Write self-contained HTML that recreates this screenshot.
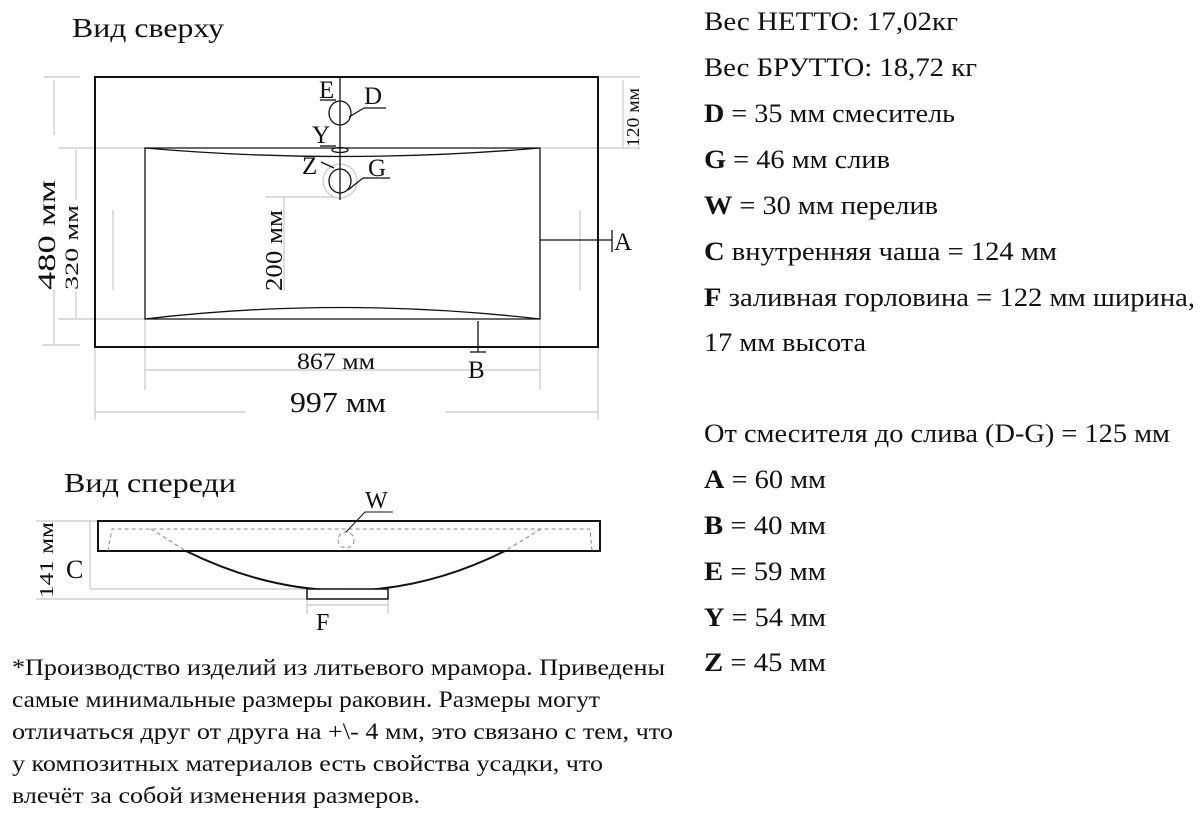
<!DOCTYPE html>
<html><head><meta charset="utf-8"><style>
html,body{margin:0;padding:0;background:#fff;width:1200px;height:815px;overflow:hidden}
svg text{font-family:"Liberation Serif",serif;fill:#111}
</style></head><body>
<svg width="1200" height="815" viewBox="0 0 1200 815" xmlns="http://www.w3.org/2000/svg">
<text x="72" y="37" font-size="27" textLength="152" lengthAdjust="spacingAndGlyphs">Вид сверху</text>
<g stroke="#c8c8c8" stroke-width="1.2" fill="none">
<line x1="44" y1="77" x2="80" y2="77"/><line x1="54" y1="80" x2="54" y2="135"/>
<line x1="54" y1="290" x2="54" y2="345"/><line x1="42" y1="345" x2="80" y2="345"/>
<line x1="58" y1="148" x2="145" y2="148"/><line x1="76" y1="150" x2="76" y2="200"/>
<line x1="76" y1="292" x2="76" y2="318"/>
<line x1="58" y1="319" x2="145" y2="319"/>
<line x1="95" y1="348" x2="95" y2="420"/><line x1="598" y1="348" x2="598" y2="420"/>
<line x1="95" y1="412" x2="245" y2="412"/><line x1="445" y1="412" x2="598" y2="412"/>
<line x1="145" y1="320" x2="145" y2="390"/><line x1="540" y1="320" x2="540" y2="390"/>
<line x1="145" y1="370" x2="540" y2="370"/>
<line x1="598" y1="77" x2="640" y2="77"/><line x1="623" y1="80" x2="623" y2="148"/>
<line x1="540" y1="148" x2="640" y2="148"/>
<line x1="265" y1="197" x2="335" y2="197"/><line x1="284" y1="197" x2="284" y2="291"/>
<circle cx="340" cy="181" r="17"/>
<line x1="113" y1="210" x2="113" y2="290"/><line x1="580" y1="210" x2="580" y2="290"/>
</g>
<rect x="95" y="77" width="503" height="270" fill="none" stroke="#111" stroke-width="2"/>
<g stroke="#111" stroke-width="1.3" fill="none">
<path d="M145 148 L540 148 L540 319 L145 319 Z"/>
<path d="M145 148 Q340 165 540 148"/>
<path d="M145 319 Q340 296 540 319"/>
<line x1="340" y1="77" x2="340" y2="200"/>
<ellipse cx="340" cy="113" rx="11" ry="12"/>
<ellipse cx="340" cy="150" rx="8" ry="2.5"/>
<ellipse cx="340" cy="181" rx="11" ry="12"/>
<line x1="320" y1="100" x2="336" y2="100"/>
<line x1="349" y1="117" x2="364" y2="108"/><line x1="364" y1="108" x2="386" y2="108"/>
<line x1="320" y1="146" x2="336" y2="146"/>
<line x1="321" y1="162" x2="334" y2="168"/>
<line x1="348" y1="190" x2="363" y2="178"/><line x1="363" y1="178" x2="390" y2="178"/>
<line x1="540" y1="240" x2="612" y2="240"/><line x1="612" y1="230" x2="612" y2="252"/>
<line x1="478" y1="321" x2="478" y2="352"/><line x1="470" y1="352" x2="486" y2="352"/>
</g>
<g font-size="25">
<text x="319" y="98">E</text><text x="364" y="104">D</text>
<text x="312" y="143">Y</text><text x="302" y="174">Z</text><text x="368" y="176">G</text>
<text x="614" y="250">A</text><text x="468" y="378">B</text>
<text x="297" y="369" font-size="23" textLength="78" lengthAdjust="spacingAndGlyphs">867 мм</text>
<text x="290" y="412" font-size="28" textLength="96" lengthAdjust="spacingAndGlyphs">997 мм</text>
</g>
<text transform="translate(55,290) rotate(-90)" font-size="25" textLength="110" lengthAdjust="spacingAndGlyphs">480 мм</text>
<text transform="translate(78,290) rotate(-90)" font-size="19" textLength="85" lengthAdjust="spacingAndGlyphs">320 мм</text>
<text transform="translate(282,291) rotate(-90)" font-size="24" textLength="81" lengthAdjust="spacingAndGlyphs">200 мм</text>
<text transform="translate(639,147) rotate(-90)" font-size="18" textLength="59" lengthAdjust="spacingAndGlyphs">120 мм</text>

<text x="64" y="492" font-size="27" textLength="172" lengthAdjust="spacingAndGlyphs">Вид спереди</text>
<g stroke="#c8c8c8" stroke-width="1.2" fill="none">
<line x1="36" y1="521" x2="97" y2="521"/><line x1="90" y1="521" x2="90" y2="589"/>
<line x1="90" y1="589" x2="340" y2="589"/><line x1="36" y1="599" x2="307" y2="599"/>
<line x1="307" y1="600" x2="307" y2="614"/><line x1="388" y1="600" x2="388" y2="614"/>
<line x1="307" y1="605" x2="388" y2="605"/>
</g>
<rect x="98" y="521" width="502" height="30" fill="none" stroke="#111" stroke-width="2"/>
<g stroke="#888" stroke-width="1" fill="none" stroke-dasharray="4,3">
<path d="M108 551 L112 529 L590 529 L592 551"/>
<line x1="151" y1="529" x2="186" y2="551"/><line x1="541" y1="529" x2="505" y2="551"/>
<circle cx="346" cy="540" r="8"/>
</g>
<path d="M186 551 Q346 630 505 551" fill="none" stroke="#111" stroke-width="2"/>
<rect x="307" y="589" width="81" height="10" fill="#fff" stroke="#111" stroke-width="1.5"/>
<path d="M346 532 L365 512 L393 512" fill="none" stroke="#111" stroke-width="1"/>
<text x="365" y="508" font-size="24">W</text>
<text x="66" y="578" font-size="26">C</text>
<text x="316" y="630" font-size="24">F</text>
<text transform="translate(53,598) rotate(-90)" font-size="20" textLength="76" lengthAdjust="spacingAndGlyphs">141 мм</text>

<g font-size="23">
<text x="12" y="675" textLength="653" lengthAdjust="spacingAndGlyphs">*Производство изделий из литьевого мрамора. Приведены</text>
<text x="12" y="707" textLength="588" lengthAdjust="spacingAndGlyphs">самые минимальные размеры раковин. Размеры могут</text>
<text x="12" y="739" textLength="661" lengthAdjust="spacingAndGlyphs">отличаться друг от друга на +\- 4 мм, это связано с тем, что</text>
<text x="12" y="771" textLength="591" lengthAdjust="spacingAndGlyphs">у композитных материалов есть свойства усадки, что</text>
<text x="12" y="803" textLength="408" lengthAdjust="spacingAndGlyphs">влечёт за собой изменения размеров.</text>
</g>
<g font-size="26">
<text x="704" y="30" textLength="254" lengthAdjust="spacingAndGlyphs">Вес НЕТТО: 17,02кг</text>
<text x="704" y="76" textLength="273" lengthAdjust="spacingAndGlyphs">Вес БРУТТО: 18,72 кг</text>
<text x="704" y="122" textLength="251" lengthAdjust="spacingAndGlyphs"><tspan font-weight="bold">D</tspan> = 35 мм смеситель</text>
<text x="704" y="168" textLength="186" lengthAdjust="spacingAndGlyphs"><tspan font-weight="bold">G</tspan> = 46 мм слив</text>
<text x="704" y="214" textLength="234" lengthAdjust="spacingAndGlyphs"><tspan font-weight="bold">W</tspan> = 30 мм перелив</text>
<text x="704" y="260" textLength="353" lengthAdjust="spacingAndGlyphs"><tspan font-weight="bold">C</tspan> внутренняя чаша = 124 мм</text>
<text x="704" y="306" textLength="491" lengthAdjust="spacingAndGlyphs"><tspan font-weight="bold">F</tspan> заливная горловина = 122 мм ширина,</text>
<text x="704" y="351" textLength="162" lengthAdjust="spacingAndGlyphs">17 мм высота</text>
<text x="704" y="442" textLength="466" lengthAdjust="spacingAndGlyphs">От смесителя до слива (D-G) = 125 мм</text>
<text x="704" y="488" textLength="122" lengthAdjust="spacingAndGlyphs"><tspan font-weight="bold">A</tspan> = 60 мм</text>
<text x="704" y="534" textLength="122" lengthAdjust="spacingAndGlyphs"><tspan font-weight="bold">B</tspan> = 40 мм</text>
<text x="704" y="580" textLength="122" lengthAdjust="spacingAndGlyphs"><tspan font-weight="bold">E</tspan> = 59 мм</text>
<text x="704" y="626" textLength="122" lengthAdjust="spacingAndGlyphs"><tspan font-weight="bold">Y</tspan> = 54 мм</text>
<text x="704" y="671" textLength="122" lengthAdjust="spacingAndGlyphs"><tspan font-weight="bold">Z</tspan> = 45 мм</text>
</g>
</svg>
</body></html>
